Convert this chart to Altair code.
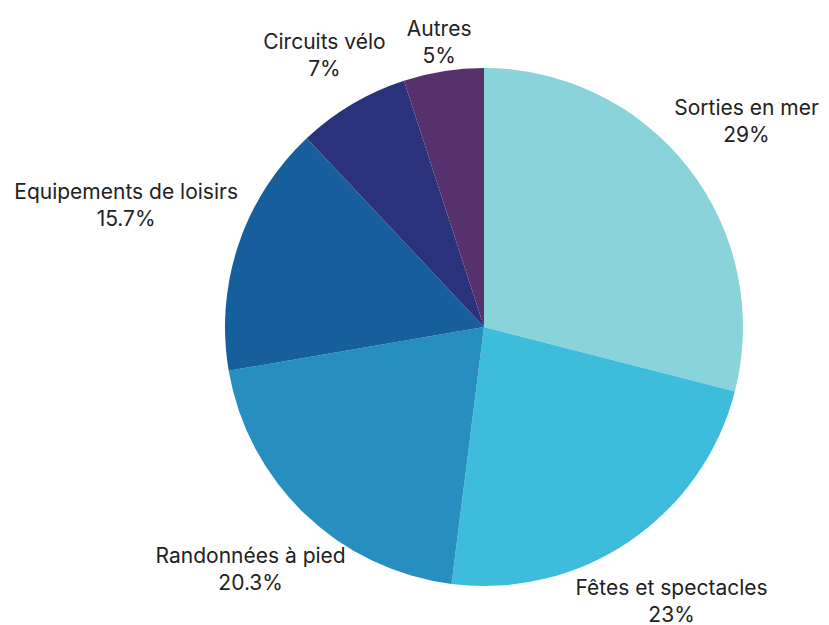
import altair as alt
import pandas as pd
import math

categories = ["Sorties en mer", "Fêtes et spectacles", "Randonnées à pied",
              "Equipements de loisirs", "Circuits vélo", "Autres"]
values = [29, 23, 20.3, 15.7, 7, 5]
colors = ["#89D3DA", "#3DBCDC", "#268FBF", "#175E9C", "#29327A", "#57316B"]

df = pd.DataFrame({"cat": categories, "value": values, "order": list(range(len(values)))})

R = 259
cx, cy = 476, 319

base = alt.Chart(df).transform_joinaggregate(
    total="sum(value)"
).transform_window(
    cum="sum(value)", sort=[alt.SortField("order")]
).transform_calculate(
    ang="(datum.cum - datum.value/2) / datum.total * 2 * PI",
    label="datum.cat + '\\n' + datum.value + '%'",
    rad="266 + abs(sin(datum.ang)) * length(datum.cat) * 5.1 + abs(cos(datum.ang)) * 16"
)

pie = base.mark_arc(radius=R).encode(
    theta=alt.Theta("value:Q", stack=True),
    color=alt.Color("cat:N", scale=alt.Scale(domain=categories, range=colors), legend=None),
    order=alt.Order("order:Q"),
    x=alt.value(cx), y=alt.value(cy),
)

text = base.mark_text(
    font="Inter", fontSize=21, lineBreak="\n", lineHeight=27, dy=-14,
    align="center", baseline="middle", color="#222222"
).encode(
    theta=alt.Theta("ang:Q", stack=None,
                    scale=alt.Scale(domain=[0, 2 * math.pi], range=[0, 2 * math.pi])),
    radius=alt.Radius("rad:Q", scale=None),
    text="label:N",
    x=alt.value(cx), y=alt.value(cy),
)

chart = alt.layer(pie, text).resolve_scale(theta="independent").properties(
    width=813, height=616, padding=0, autosize=alt.AutoSizeParams(type="none")
).configure_view(stroke=None)

chart.save("out.html", embed_options={"renderer": "svg", "actions": False})
